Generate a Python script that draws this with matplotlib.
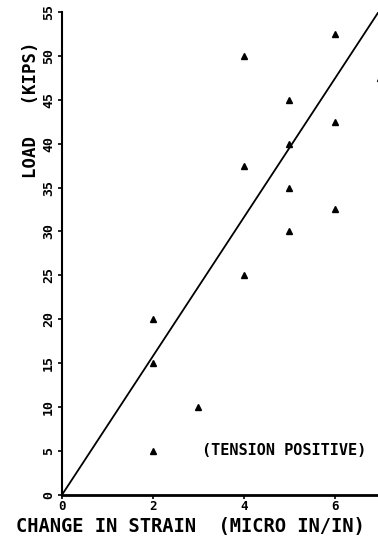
import numpy as np
import matplotlib.pyplot as plt

# Data
strain = [2, 2, 2, 3, 4, 4, 4, 5, 5, 5, 5, 6, 6, 6, 7]
load = [5, 15, 20, 10, 25, 37.5, 50, 30, 35, 40, 45, 32.5, 42.5, 52.5, 47.5]
fit_slope = 7.9
x_ticks = [0, 2, 4, 6]
y_ticks = [0, 5, 10, 15, 20, 25, 30, 35, 40, 45, 50, 55]

plt.rcParams['font.family'] = 'DejaVu Sans Mono'
plt.rcParams['font.weight'] = 'bold'

fig = plt.figure(figsize=(3.78, 5.42), dpi=100)
ax = fig.add_axes([0.164, 0.087, 0.836, 0.891])

ax.plot(strain, load, '^', color='black', markersize=4.5, clip_on=False)
xs = np.array([0, 7])
ax.plot(xs, fit_slope * xs, color='black', linewidth=1.3)

ax.text(3.08, 5, '(TENSION POSITIVE)', fontsize=11, fontweight='bold',
        va='center', ha='left')

ax.set_xlim(0, 6.95)
ax.set_ylim(0, 55)
ax.set_xticks(x_ticks)
ax.set_yticks(y_ticks)
ax.tick_params(axis='x', labelsize=9, length=3, width=1.2, direction='out', pad=1)
ax.tick_params(axis='y', labelsize=9.5, length=3, width=1.2, direction='out', pad=2,
               labelrotation=90)
for lbl in ax.get_yticklabels():
    lbl.set_va('center')
    lbl.set_fontweight('bold')
for lbl in ax.get_xticklabels():
    lbl.set_fontweight('bold')

ax.spines['top'].set_visible(False)
ax.spines['right'].set_visible(False)
ax.spines['left'].set_linewidth(1.5)
ax.spines['bottom'].set_linewidth(2)

ax.set_xlabel('CHANGE IN STRAIN  (MICRO IN/IN)', fontsize=13.5, fontweight='bold',
              va='center')
ax.xaxis.set_label_coords(0.405, -0.066)
ax.set_ylabel('LOAD   (KIPS)', fontsize=12.5, fontweight='bold', va='center')
ax.yaxis.set_label_coords(-0.098, 0.797)

fig.savefig('out.png', dpi=100)
